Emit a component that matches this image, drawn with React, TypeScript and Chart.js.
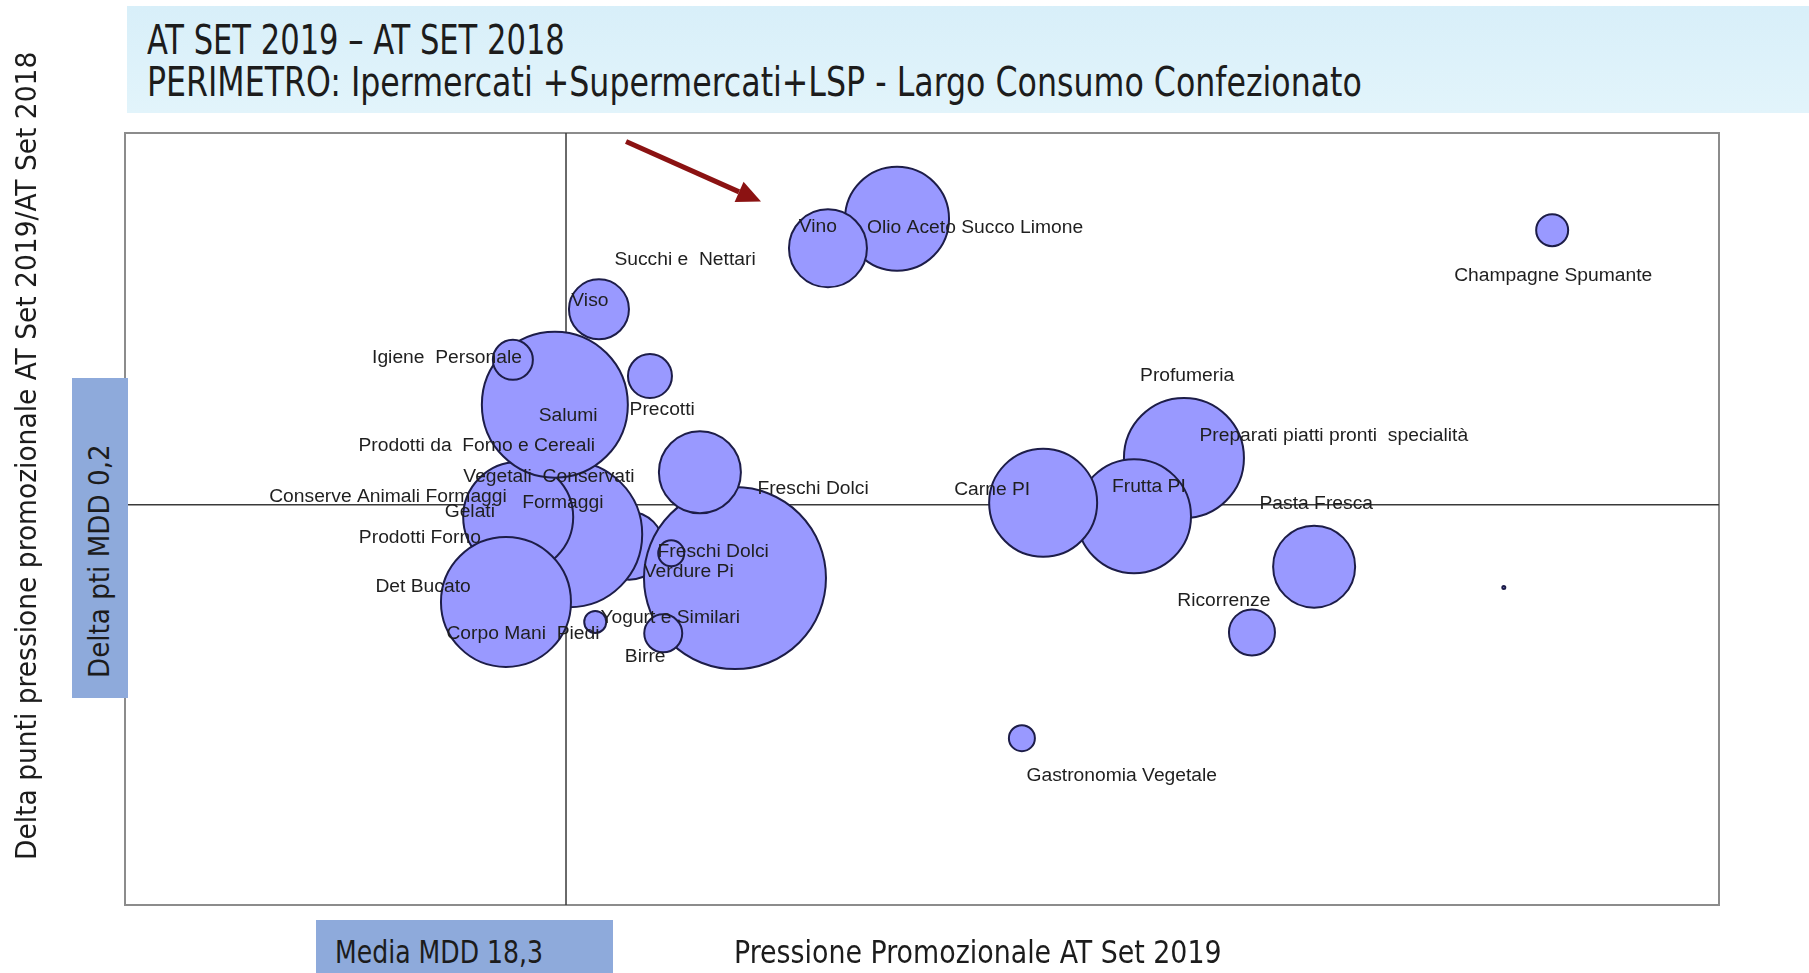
import React, { useEffect, useLayoutEffect, useRef } from "react";
import { Chart, registerables } from "chart.js";

Chart.register(...registerables);

// ---------- data ----------
const bubbleNames = [
  "Verdure Pi",
  "Freschi Dolci",
  "Freschi Dolci (2)",
  "Freschi Dolci (3)",
  "Yogurt e Similari",
  "Birre",
  "Vegetali Conservati",
  "Gelati",
  "Salumi",
  "Igiene Personale",
  "Corpo Mani Piedi",
  "Viso",
  "Precotti",
  "Olio Aceto Succo Limone",
  "Vino",
  "Champagne Spumante",
  "Preparati piatti pronti specialità",
  "Frutta PI",
  "Carne PI",
  "Pasta Fresca",
  "Ricorrenze",
  "Gastronomia Vegetale",
  "n.d.",
];
const xValues = [19.49, 21.48, 20.82, 20.28, 18.85, 20.13, 18.36, 17.4, 18.09, 17.3, 17.17, 18.92, 19.88, 24.53, 23.23, 36.86, 29.93, 28.99, 27.28, 32.38, 31.21, 26.88, 35.95];
const yValues = [-0.23, -0.57, 0.54, -0.31, -1.03, -1.15, -0.11, 0.07, 1.25, 1.72, -0.82, 2.25, 1.55, 3.2, 2.89, 3.08, 0.69, 0.08, 0.22, -0.45, -1.14, -2.25, -0.67];
const bubbleSizes = [34, 91, 41, 13, 11, 19, 73, 55, 73, 20, 65, 30, 22, 52, 39, 16, 60, 57, 54, 41, 23, 13, 1.5];

const labelTexts = [
  "Vino",
  "Olio Aceto Succo Limone",
  "Succhi e  Nettari",
  "Viso",
  "Champagne Spumante",
  "Igiene  Personale",
  "Salumi",
  "Precotti",
  "Prodotti da  Forno e Cereali",
  "Vegetali  Conservati",
  "Conserve Animali Formaggi",
  "Formaggi",
  "Gelati",
  "Prodotti Forno",
  "Det Bucato",
  "Corpo Mani  Piedi",
  "Freschi Dolci",
  "Freschi Dolci",
  "Verdure Pi",
  "Yogurt e Similari",
  "Birre",
  "Carne PI",
  "Frutta PI",
  "Profumeria",
  "Preparati piatti pronti  specialità",
  "Pasta Fresca",
  "Ricorrenze",
  "Gastronomia Vegetale",
];
const labelXValues = [23.04, 26.0, 20.54, 18.75, 36.88, 16.06, 18.34, 20.11, 16.62, 17.98, 14.95, 18.24, 16.49, 15.55, 15.61, 17.49, 22.95, 21.07, 20.61, 20.26, 19.79, 26.32, 29.27, 29.99, 32.75, 32.42, 30.68, 28.76];
const labelYValues = [3.11, 3.1, 2.77, 2.34, 2.6, 1.74, 1.13, 1.19, 0.82, 0.49, 0.28, 0.22, 0.12, -0.15, -0.66, -1.16, 0.36, -0.3, -0.51, -0.99, -1.4, 0.35, 0.39, 1.55, 0.92, 0.21, -0.81, -2.65];

const xRange = [10, 40];
const yRange = [-4, 4.1];
const mediaMDD = 18.3;
const deltaMDD = 0.2;
const arrowFrom = [19.43, 4.01];
const arrowTo = [21.97, 3.38];

const headerLine1 = "AT SET 2019 – AT SET 2018";
const headerLine2 = "PERIMETRO: Ipermercati +Supermercati+LSP - Largo Consumo Confezionato";
const yTitle = "Delta punti pressione promozionale AT Set 2019/AT Set 2018";
const xTitle = "Pressione Promozionale AT Set 2019";
const deltaBoxText = "Delta pti MDD 0,2";
const mediaBoxText = "Media MDD 18,3";

// ---------- helpers ----------
const CONDENSED = '"Liberation Sans Narrow", "DejaVu Sans Condensed", Roboto, "Liberation Sans", sans-serif';

type FitProps = { text: string; x: number; y: number; width: number; size: number; angle?: number; color?: string };

function FitText({ text, x, y, width, size, angle = 0, color = "#1c1c1c" }: FitProps) {
  const ref = useRef<HTMLSpanElement | null>(null);
  useLayoutEffect(() => {
    const fit = () => {
      const el = ref.current;
      if (!el) return;
      const w = el.offsetWidth;
      if (w > 0) el.style.transform = `scaleX(${width / w})`;
    };
    fit();
    if ((document as any).fonts && (document as any).fonts.ready) {
      (document as any).fonts.ready.then(fit);
    }
  }, [text, width, size]);
  return (
    <div
      style={{
        position: "absolute",
        left: x,
        top: y,
        width: 0,
        height: 0,
        transform: `rotate(${angle}deg)`,
        transformOrigin: "0 0",
      }}
    >
      <span
        ref={ref}
        style={{
          position: "absolute",
          left: 0,
          top: -0.8465 * size,
          display: "inline-block",
          whiteSpace: "pre",
          fontFamily: CONDENSED,
          fontSize: size,
          lineHeight: `${size}px`,
          color,
          transformOrigin: "0 0",
        }}
      >
        {text}
      </span>
    </div>
  );
}

const quadrantPlugin = {
  id: "quadrant",
  beforeDatasetsDraw(chart: any) {
    const { ctx, chartArea, scales } = chart;
    const { left, right, top, bottom } = chartArea;
    ctx.save();
    ctx.strokeStyle = "#8c8c8c";
    ctx.lineWidth = 2;
    ctx.strokeRect(left, top, right - left, bottom - top);
    const mx = scales.x.getPixelForValue(mediaMDD);
    const my = scales.y.getPixelForValue(deltaMDD);
    ctx.strokeStyle = "#3a3a3a";
    ctx.lineWidth = 1.5;
    ctx.beginPath();
    ctx.moveTo(mx, top);
    ctx.lineTo(mx, bottom);
    ctx.moveTo(left, my);
    ctx.lineTo(right, my);
    ctx.stroke();
    ctx.restore();
  },
  afterDatasetsDraw(chart: any) {
    const { ctx, scales } = chart;
    ctx.save();
    ctx.font = '18px "Liberation Sans", Arial, sans-serif';
    ctx.fillStyle = "#1f1f1f";
    ctx.textAlign = "center";
    ctx.textBaseline = "middle";
    labelTexts.forEach((t, i) => {
      const px = scales.x.getPixelForValue(labelXValues[i]);
      const py = scales.y.getPixelForValue(labelYValues[i]);
      ctx.save();
      ctx.translate(px, py);
      ctx.scale(1.07, 1);
      ctx.fillText(t, 0, 0);
      ctx.restore();
    });
    // arrow
    const x1 = scales.x.getPixelForValue(arrowFrom[0]);
    const y1 = scales.y.getPixelForValue(arrowFrom[1]);
    const x2 = scales.x.getPixelForValue(arrowTo[0]);
    const y2 = scales.y.getPixelForValue(arrowTo[1]);
    const ang = Math.atan2(y2 - y1, x2 - x1);
    const headLen = 24;
    const headW = 11;
    const bx = x2 - headLen * Math.cos(ang);
    const by = y2 - headLen * Math.sin(ang);
    ctx.strokeStyle = "#8b1212";
    ctx.fillStyle = "#8b1212";
    ctx.lineWidth = 5;
    ctx.beginPath();
    ctx.moveTo(x1, y1);
    ctx.lineTo(bx, by);
    ctx.stroke();
    ctx.beginPath();
    ctx.moveTo(x2, y2);
    ctx.lineTo(bx + headW * Math.sin(ang), by - headW * Math.cos(ang));
    ctx.lineTo(bx - headW * Math.sin(ang), by + headW * Math.cos(ang));
    ctx.closePath();
    ctx.fill();
    ctx.restore();
  },
};

export default function App() {
  const canvasRef = useRef<HTMLCanvasElement | null>(null);

  useEffect(() => {
    if (!canvasRef.current) return;
    const chart = new Chart(canvasRef.current, {
      type: "bubble",
      data: {
        datasets: [
          {
            label: "Categorie",
            data: bubbleNames.map((_, i) => ({ x: xValues[i], y: yValues[i], r: bubbleSizes[i] })),
            backgroundColor: "#9999ff",
            borderColor: "#1d1d48",
            borderWidth: 2,
            hoverRadius: 0,
          } as any,
        ],
      },
      options: {
        animation: false,
        responsive: false,
        devicePixelRatio: 1,
        events: [],
        layout: {
          autoPadding: false,
          padding: { left: 125, top: 133, right: 90, bottom: 68 },
        },
        plugins: {
          legend: { display: false },
          tooltip: { enabled: false },
        },
        scales: {
          x: { type: "linear", min: xRange[0], max: xRange[1], display: false },
          y: { type: "linear", min: yRange[0], max: yRange[1], display: false },
        },
      } as any,
      plugins: [quadrantPlugin],
    });
    return () => chart.destroy();
  }, []);

  return (
    <div
      style={{
        position: "absolute",
        left: 0,
        top: 0,
        width: 1809,
        height: 973,
        overflow: "hidden",
        background: "#ffffff",
      }}
    >
      <canvas ref={canvasRef} width={1809} height={973} style={{ position: "absolute", left: 0, top: 0, display: "block" }} />
      <div style={{ position: "absolute", left: 127, top: 6, width: 1682, height: 107, background: "linear-gradient(#d8eff9, #e2f4fb)" }} />
      <FitText text={headerLine1} x={147} y={54} width={418} size={40} />
      <FitText text={headerLine2} x={147} y={96} width={1215} size={40} />
      <div style={{ position: "absolute", left: 72, top: 378, width: 56, height: 320, background: "#8eaadb" }} />
      <FitText text={deltaBoxText} x={110} y={678} width={234} size={28} angle={-90} />
      <FitText text={yTitle} x={37} y={860} width={808} size={28} angle={-90} />
      <div style={{ position: "absolute", left: 316, top: 920, width: 297, height: 53, background: "#8eaadb" }} />
      <FitText text={mediaBoxText} x={335} y={963} width={208} size={32} />
      <FitText text={xTitle} x={734} y={963} width={488} size={32} />
    </div>
  );
}
